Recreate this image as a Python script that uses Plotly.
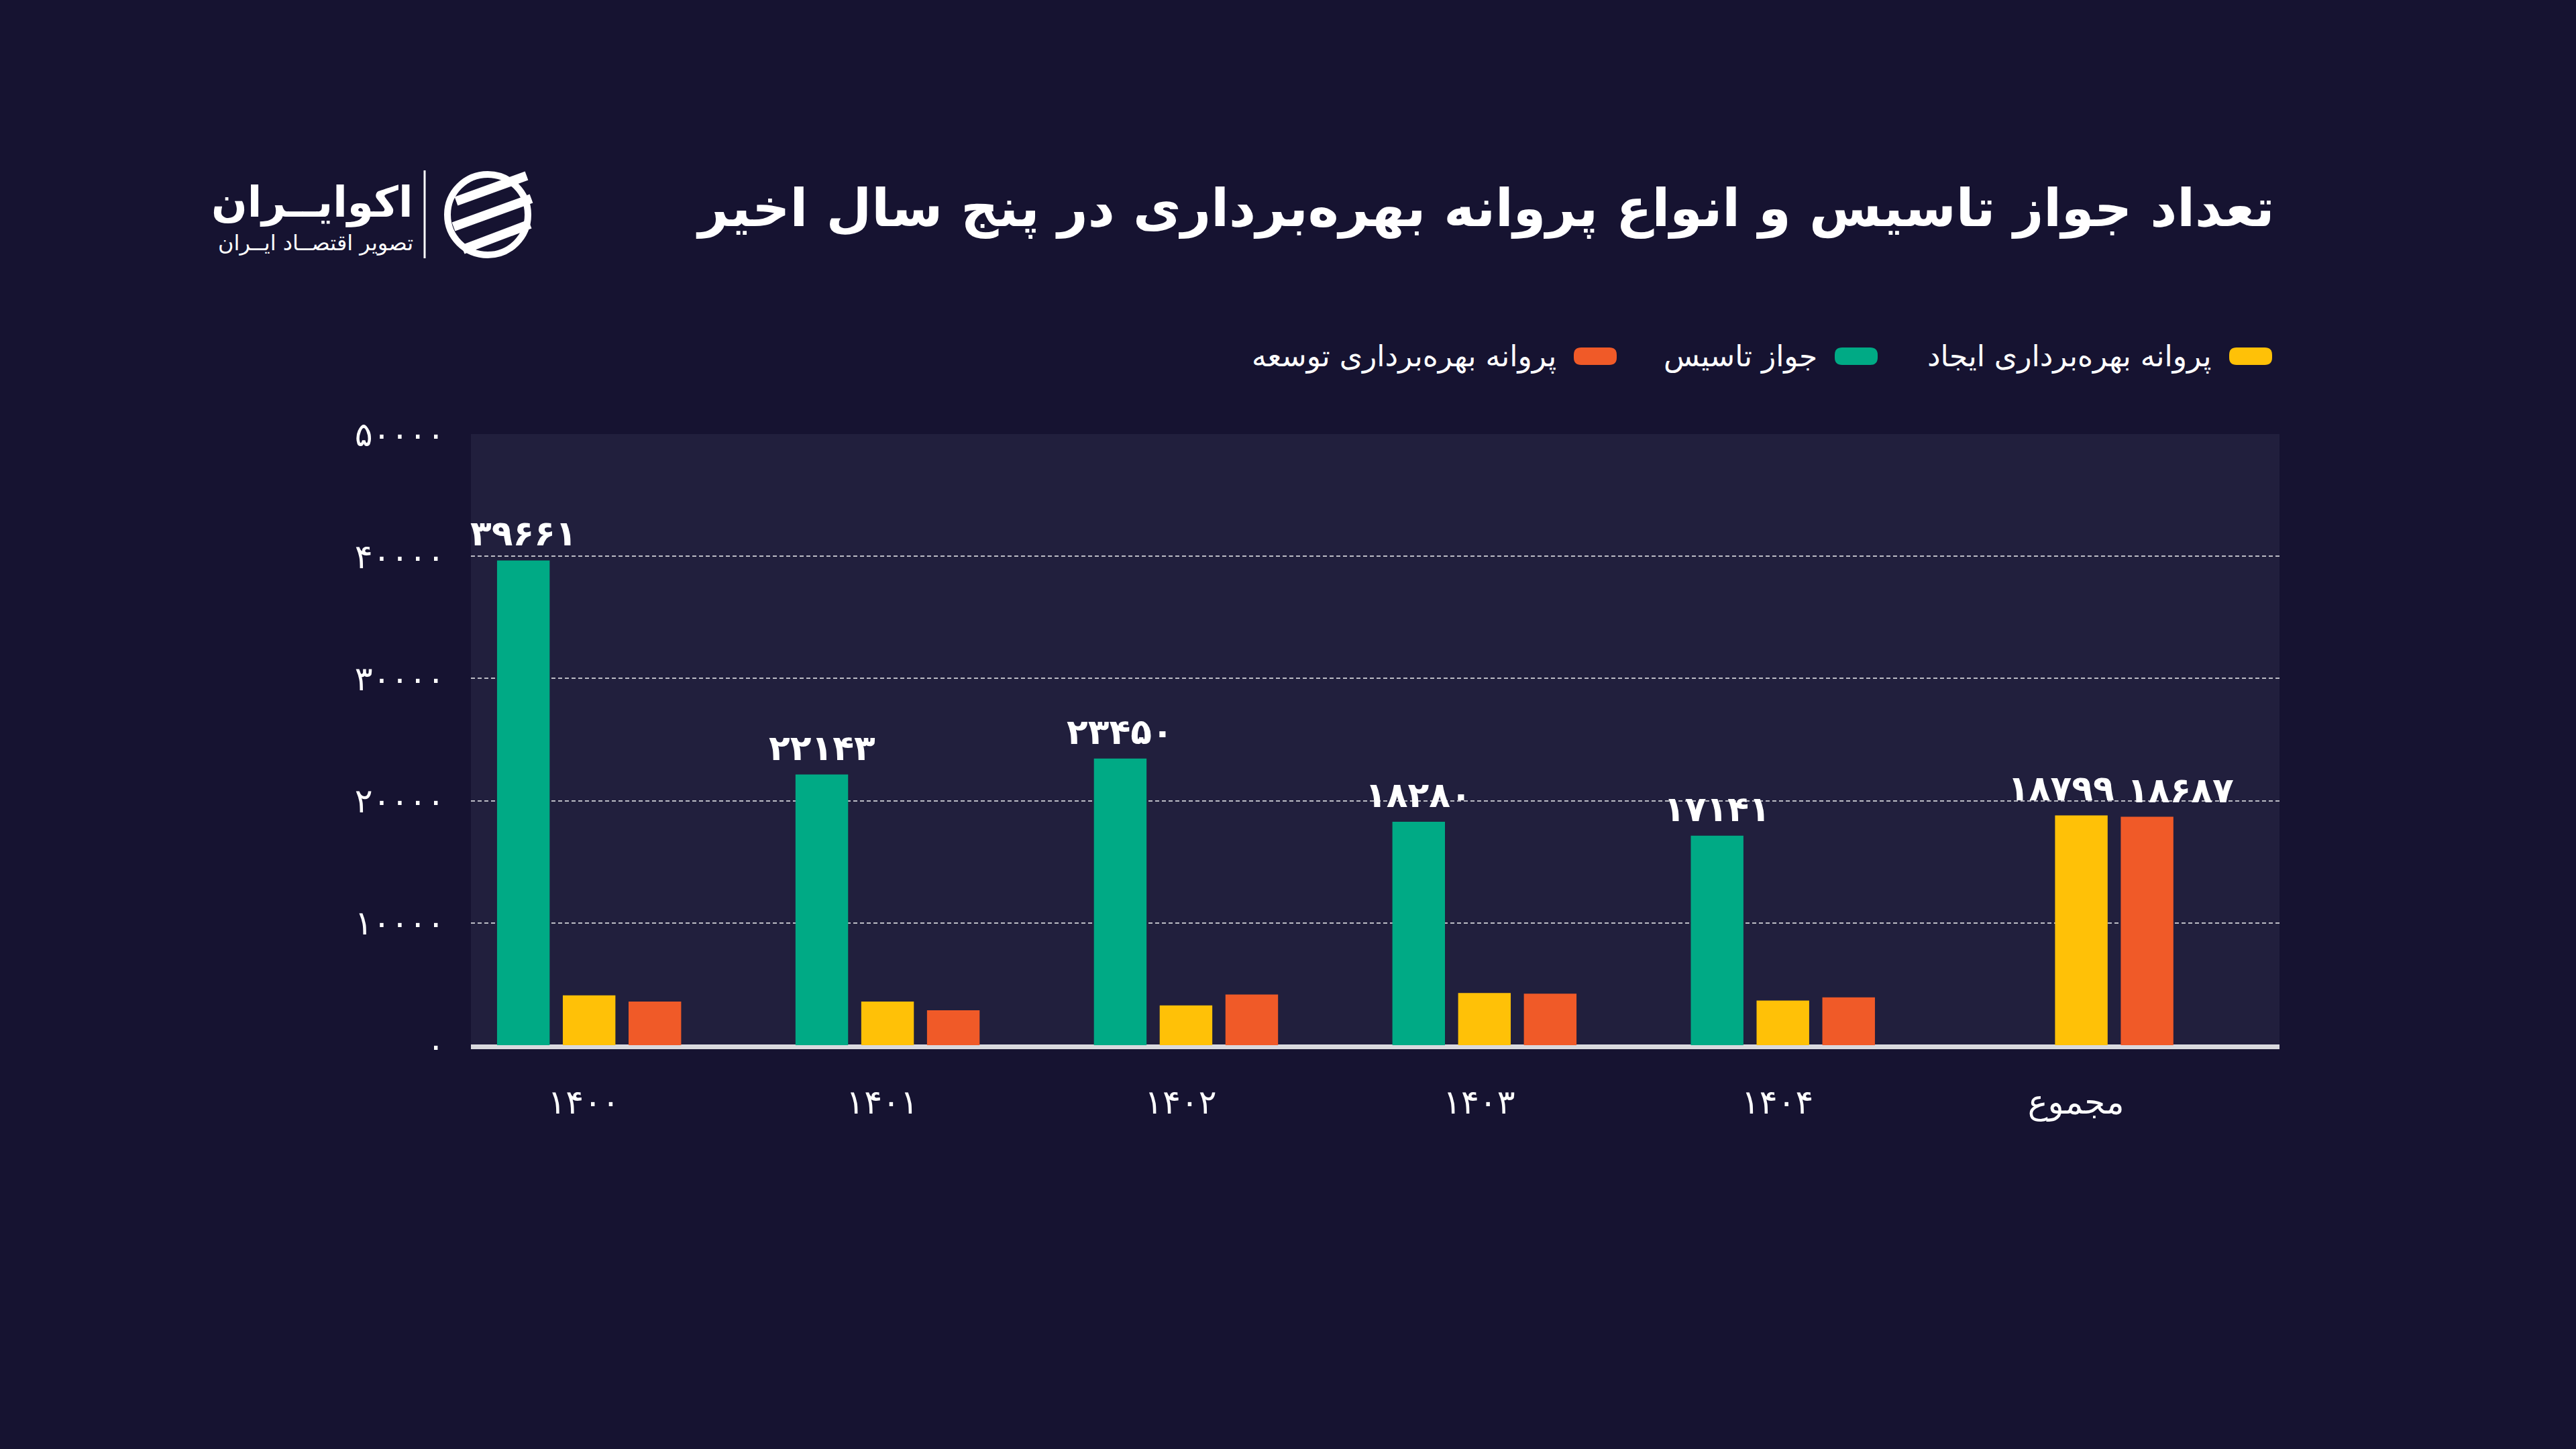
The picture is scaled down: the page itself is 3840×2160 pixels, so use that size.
import plotly.graph_objects as go

# ---------------- data ----------------
categories = ["۱۴۰۰", "۱۴۰۱", "۱۴۰۲", "۱۴۰۳", "۱۴۰۴", "مجموع"]
name_tasis = "جواز تاسیس"
name_ijad = "پروانه بهره\u200cبرداری ایجاد"
name_tosee = "پروانه بهره\u200cبرداری توسعه"
jawaz_tasis = [39661, 22143, 23450, 18280, 17141, None]
parvaneh_ijad = [4070, 3570, 3250, 4265, 3644, 18799]
parvaneh_tosee = [3565, 2855, 4150, 4210, 3907, 18687]
y_tickvals = [0, 10000, 20000, 30000, 40000, 50000]
y_ticktext = ["۰", "۱۰۰۰۰", "۲۰۰۰۰", "۳۰۰۰۰", "۴۰۰۰۰", "۵۰۰۰۰"]
title_text = "تعداد جواز تاسیس و انواع پروانه بهره\u200cبرداری در پنج سال اخیر"
logo_text = "اکوایــران"
logo_sub = "تصویر اقتصــاد ایــران"

# ---------------- style ----------------
W, H = 3840, 2160
BG = "#161331"
PLOT_BG = "#211F3D"
C_GREEN = "#00AA85"
C_YELLOW = "#FFC107"
C_ORANGE = "#F05A28"
FONT = "DejaVu Sans"

L, R, T, B = 702, 442, 647, 602
PW, PH = W - L - R, H - T - B

def fa(n):
    return str(n).translate(str.maketrans("0123456789", "۰۱۲۳۴۵۶۷۸۹"))

def px(x):
    return (x - L) / PW

def py(y):
    return (T + PH - y) / PH

fig = go.Figure()
series = [(name_tasis, jawaz_tasis, C_GREEN),
          (name_ijad, parvaneh_ijad, C_YELLOW),
          (name_tosee, parvaneh_tosee, C_ORANGE)]
for nm, vals, col in series:
    fig.add_trace(go.Bar(x=categories, y=vals, name=nm, marker=dict(color=col, line=dict(width=0)),
                         showlegend=False, hoverinfo="x+y+name"))

# value labels
BARGAP = 0.339
slot_px = (1 - BARGAP) * (PW / 6.06) / 3
annotations = []
for si, (nm, vals, col) in enumerate(series):
    for ci, (c, v) in enumerate(zip(categories, vals)):
        if v is None:
            continue
        if si == 0 or c == "مجموع":
            shift = (si - 1) * slot_px
            if c == "مجموع":
                shift += -30 if si == 1 else 50
            annotations.append(dict(x=c, y=v, xref="x", yref="y", text="<b>" + fa(v) + "</b>",
                                    showarrow=False, yanchor="bottom", xanchor="center",
                                    xshift=shift, yshift=8,
                                    font=dict(family=FONT, size=52, color="white")))

# title
annotations.append(dict(x=px(3392), y=py(311), xref="paper", yref="paper", text="<b>" + title_text + "</b>",
                        showarrow=False, xanchor="right", yanchor="middle",
                        font=dict(family=FONT, size=78, color="white")))
# logo texts
annotations.append(dict(x=px(618), y=py(302), xref="paper", yref="paper", text="<b>" + logo_text + "</b>",
                        showarrow=False, xanchor="right", yanchor="middle",
                        font=dict(family=FONT, size=63, color="white")))
annotations.append(dict(x=px(618), y=py(362), xref="paper", yref="paper", text=logo_sub,
                        showarrow=False, xanchor="right", yanchor="middle",
                        font=dict(family=FONT, size=32, color="white")))

# custom legend (RTL)
legend_items = [(name_ijad, C_YELLOW, 3387), (name_tasis, C_GREEN, 2799), (name_tosee, C_ORANGE, 2410)]
shapes = []
LY = 531
for nm, col, xr in legend_items:
    x0, x1 = xr - 64, xr
    y0, y1 = LY - 13, LY + 13
    r = 11
    path = (f"M {px(x0 + r)},{py(y0)} L {px(x1 - r)},{py(y0)} Q {px(x1)},{py(y0)} {px(x1)},{py(y0 + r)} "
            f"L {px(x1)},{py(y1 - r)} Q {px(x1)},{py(y1)} {px(x1 - r)},{py(y1)} "
            f"L {px(x0 + r)},{py(y1)} Q {px(x0)},{py(y1)} {px(x0)},{py(y1 - r)} "
            f"L {px(x0)},{py(y0 + r)} Q {px(x0)},{py(y0)} {px(x0 + r)},{py(y0)} Z")
    shapes.append(dict(type="path", xref="paper", yref="paper", path=path,
                       fillcolor=col, line=dict(width=0)))
    annotations.append(dict(x=px(x0 - 24), y=py(LY), xref="paper", yref="paper", text=nm,
                            showarrow=False, xanchor="right", yanchor="middle",
                            font=dict(family=FONT, size=44, color="white")))

# logo separator and icon
shapes.append(dict(type="line", xref="paper", yref="paper", x0=px(633), x1=px(633), y0=py(254), y1=py(385),
                   line=dict(color="white", width=3)))
cx, cy, rr = 727, 320, 60
shapes.append(dict(type="circle", xref="paper", yref="paper", x0=px(cx - rr), x1=px(cx + rr),
                   y0=py(cy + rr), y1=py(cy - rr), line=dict(color="white", width=10)))
for (xa, ya, xb, yb) in [(680, 300, 785, 262), (676, 338, 792, 296), (690, 372, 790, 334)]:
    shapes.append(dict(type="line", xref="paper", yref="paper", x0=px(xa), y0=py(ya), x1=px(xb), y1=py(yb),
                       line=dict(color="white", width=14)))
# thin continuation of the baseline
shapes.append(dict(type="line", xref="paper", yref="paper", x0=0, x1=1, y0=0, y1=0,
                   line=dict(color="#E6E6EA", width=2), layer="below"))

fig.update_layout(
    width=W, height=H,
    paper_bgcolor=BG, plot_bgcolor=PLOT_BG,
    margin=dict(l=L, r=R, t=T, b=B, autoexpand=False),
    barmode="group", bargap=BARGAP, bargroupgap=0.2,
    showlegend=False,
    annotations=annotations, shapes=shapes,
    font=dict(family=FONT, color="white"),
    xaxis=dict(type="category", range=[-0.396, 5.664], showgrid=False, zeroline=False,
               showline=True, linecolor="#D9D9DE", linewidth=6,
               tickfont=dict(family=FONT, size=50, color="white"), ticks="", ticklabelstandoff=36,
               ticklabelshift=-8),
    yaxis=dict(range=[0, 50000], tickvals=y_tickvals, ticktext=y_ticktext,
               showgrid=True, gridcolor="rgba(255,255,255,0.7)", gridwidth=1.5, griddash="6px,4px",
               zeroline=False, showline=False, ticks="",
               tickfont=dict(family=FONT, size=50, color="white"), ticklabelstandoff=38),
)

fig.write_html("out.html")
